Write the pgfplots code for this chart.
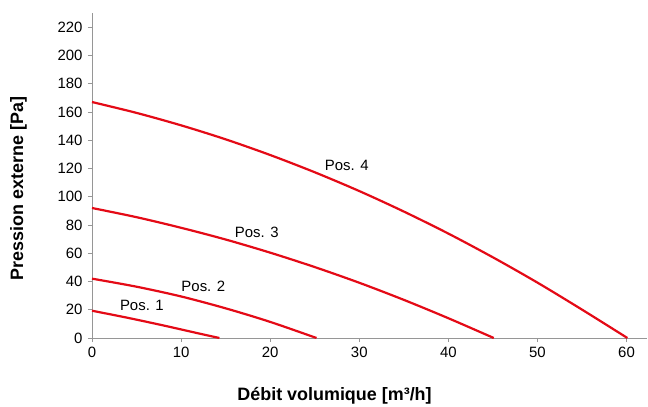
\documentclass[border=0pt]{standalone}
\usepackage{pgfplots}
\pgfplotsset{compat=1.18}
\usepackage{fontspec}
\setmainfont{Liberation Sans}

\definecolor{curvered}{RGB}{228,10,22}
\definecolor{axisgray}{RGB}{150,150,150}
\pgfplotsset{poscurve/.style={curvered, line width=2.2bp, smooth, mark=none}}

\begin{document}
\begin{tikzpicture}
	\useasboundingbox (-92bp,-69bp) rectangle (556bp,338bp);
	\begin{axis}[
			scale only axis,
			width=555bp,
			height=325bp,
			xmin=0, xmax=62.3,
			ymin=0, ymax=230,
			xtick={0,10,...,60},
			ytick={0,20,...,220},
			axis x line=bottom,
			axis y line=left,
			axis line style={axisgray, line width=0.8pt, -},
			tick style={axisgray, line width=0.8pt},
			tick align=outside,
			major tick length=4bp,
			tick label style={font=\fontsize{15}{17}\selectfont},
			/pgf/number format/assume math mode=true,
			xticklabel style={yshift=-2bp},
			yticklabel style={xshift=-2bp},
			xlabel={\bfseries Débit volumique [m³/h]},
			ylabel={\bfseries Pression externe [Pa]},
			label style={font=\fontsize{18}{20}\selectfont},
			xlabel style={at={(axis description cs:0.437,-0.178)}, anchor=center},
			ylabel style={at={(axis description cs:-0.1324,0.46)}, anchor=center},
			clip=false,
		]

		% Pos. 1
		\addplot[poscurve] coordinates {
			(0,19.3) (4,14.3) (8,8.9) (12,3.2) (14.3,0)
		};
		% Pos. 2
		\addplot[poscurve] coordinates {
			(0,42) (5,36.3) (10,29.4) (15,21.0) (20,11.4) (25.2,0)
		};
		% Pos. 3
		\addplot[poscurve] coordinates {
			(0,92) (5,85.5) (10,78.0) (15,69.7) (20,60.4) (25,50.2)
			(30,39.1) (35,27.0) (40,14.0) (45.1,0)
		};
		% Pos. 4
		\addplot[poscurve] coordinates {
			(0,167) (5,159.3) (10,150.5) (15,140.6) (20,129.5) (25,117.3)
			(30,104) (35,89.5) (40,73.9) (45,57.1) (50,39.2) (55,20.1) (60.1,0)
		};

		\begin{scope}[every node/.style={font=\fontsize{15}{17}\selectfont}]
			\node at (axis cs:5.6,23.3) {Pos. 1};
			\node at (axis cs:12.5,36.7) {Pos. 2};
			\node at (axis cs:18.5,75.1) {Pos. 3};
			\node at (axis cs:28.6,121.8) {Pos. 4};
		\end{scope}

	\end{axis}
\end{tikzpicture}
\end{document}
